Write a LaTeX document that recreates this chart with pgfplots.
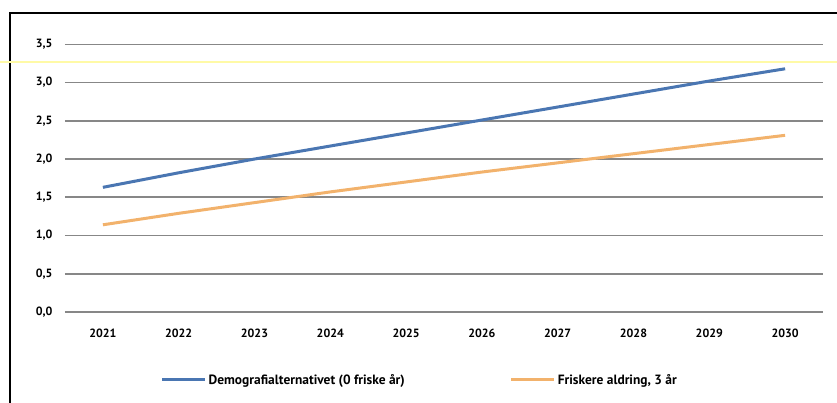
\documentclass[border=0pt]{standalone}
\usepackage{fontspec}
\setmainfont{PT Sans}
\usepackage{pgfplots}
\pgfplotsset{compat=1.18}
\definecolor{demoblue}{RGB}{74,118,178}
\definecolor{friskorange}{RGB}{242,178,108}
\definecolor{gridgrey}{RGB}{135,135,135}

\begin{document}
\begin{tikzpicture}
\useasboundingbox (-65bp,-91bp) rectangle (772bp,312bp);
\begin{axis}[
    at={(0,0)}, anchor=south west,
    scale only axis,
    width=758bp, height=267.7bp,
    xmin=-0.5, xmax=9.5,
    ymin=0, ymax=3.5,
    axis line style={draw=none},
    xtick={0,...,9},
    xticklabels={2021,2022,2023,2024,2025,2026,2027,2028,2029,2030},
    ytick={0,0.5,...,3.5},
    yticklabel={\pgfmathprintnumber[fixed,fixed zerofill,precision=1,use comma]{\tick}},
    /pgf/number format/assume math mode=true,
    ymajorgrids,
    grid style={gridgrey, line width=1.6bp},
    major tick length=0pt,
    tick label style={font=\fontsize{12}{14}\selectfont\bfseries},
    yticklabel style={anchor=east, xshift=-9bp},
    xticklabel style={anchor=north, yshift=-13bp},
    legend columns=2,
    legend style={draw=none, fill=none, at={(axis description cs:0.468,-0.254)}, anchor=center,
        font=\fontsize{13.5}{15}\selectfont\bfseries, /tikz/every even column/.append style={column sep=103bp}},
    legend image code/.code={\draw[#1, line width=3bp] (0,0) -- (43bp,0);},
    clip=false,
]
\addplot[demoblue, line width=3bp] coordinates {
 (0,1.63) (1,1.82) (2,2.00) (3,2.17) (4,2.34) (5,2.51) (6,2.68) (7,2.85) (8,3.02) (9,3.18)};
\addlegendentry{Demografialternativet (0 friske år)}
\addplot[friskorange, line width=3bp] coordinates {
 (0,1.14) (1,1.29) (2,1.43) (3,1.57) (4,1.70) (5,1.83) (6,1.95) (7,2.07) (8,2.19) (9,2.31)};
\addlegendentry{Friskere aldring, 3 år}
\end{axis}
\draw[black, line width=2bp] (-55bp,-91bp) -- (-55bp,299bp) -- (772bp,299bp);
\draw[yellow!35!white, line width=1.5bp] (-65bp,250bp) -- (772bp,250bp);
\end{tikzpicture}
\end{document}
